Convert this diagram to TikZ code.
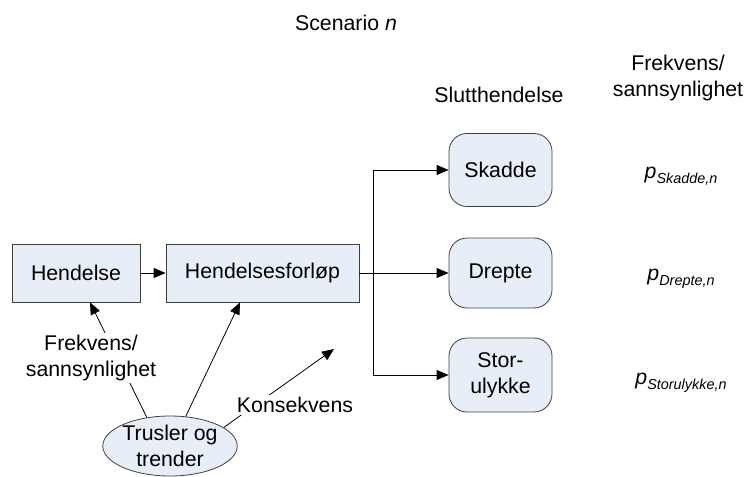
\documentclass[tikz,border=0pt]{standalone}
\usepackage{fontspec}
\setmainfont{Liberation Sans}
\usetikzlibrary{arrows.meta,shapes,positioning}
\definecolor{boxfill}{RGB}{232,238,247}
\definecolor{boxline}{RGB}{64,64,64}
\newcommand{\psub}[1]{\textit{p}\raisebox{-5bp}{\fontsize{14.4bp}{16bp}\selectfont\textit{#1}}}

\begin{document}
\begin{tikzpicture}[x=1bp, y=-1bp,
    every node/.style={font=\fontsize{21.3bp}{26bp}\selectfont},
    box/.style={draw=boxline, fill=boxfill, line width=0.8bp, minimum height=58bp, inner sep=0pt},
    endbox/.style={box, rounded corners=18bp, minimum width=103bp, align=center},
    arr/.style={-{Triangle[length=12bp,width=10bp]}, line width=0.8bp},
    lbl/.style={fill=white, align=center, inner sep=2bp}]
  \useasboundingbox (0,0) rectangle (745,477);
  % headings
  \node (scenario) at (346,23) {Scenario \textit{n}};
  \node (slutt) at (499,95) {Slutthendelse};
  \node[align=center] (frekvhead) at (678,77.5) {Frekvens/\\sannsynlighet};
  % chain
  \node[box, minimum width=128bp] (hendelse) at (76,273) {Hendelse};
  \node[box, minimum width=193bp] (forlop) at (262.5,273) {Hendelsesforløp};
  \node[ellipse, draw=boxline, fill=boxfill, line width=0.8bp, minimum width=134bp,
        minimum height=60bp, inner sep=0pt, align=center] (trusler) at (170,446) {Trusler og\\trender};
  % end events
  \node[endbox, minimum height=73bp] (skadde) at (500.5,170) {Skadde};
  \node[endbox, minimum height=70bp] (drepte) at (500.5,273) {Drepte};
  \node[endbox, minimum height=74bp] (stor) at (500.5,375) {Stor-\\ulykke};
  % probabilities
  \node[anchor=base] (pskadde) at (681,179) {\psub{Skadde,n}};
  \node[anchor=base] (pdrepte) at (681,281) {\psub{Drepte,n}};
  \node[anchor=base] (pstor) at (681,384) {\psub{Storulykke,n}};
  % connectors
  \draw[arr] (hendelse) -- (forlop);
  \coordinate (split) at (373,273);
  \draw[line width=0.8bp] (forlop) -- (split);
  \draw[arr] (split) |- (skadde);
  \draw[arr] (split) -- (drepte);
  \draw[arr] (split) |- (stor);
  \draw[arr] (trusler.129) -- ([xshift=14bp]hendelse.south);
  \draw[arr] (trusler.62) -- ([xshift=-22.5bp]forlop.south);
  \coordinate (konsend) at (334,349);
  \draw[arr] (trusler.19) -- (konsend);
  \node[lbl] (frekvlbl) at (91,358) {Frekvens/\\sannsynlighet}; % over line
  \node[lbl] (konslbl) at (295,405) {Konsekvens};
\end{tikzpicture}
\end{document}
